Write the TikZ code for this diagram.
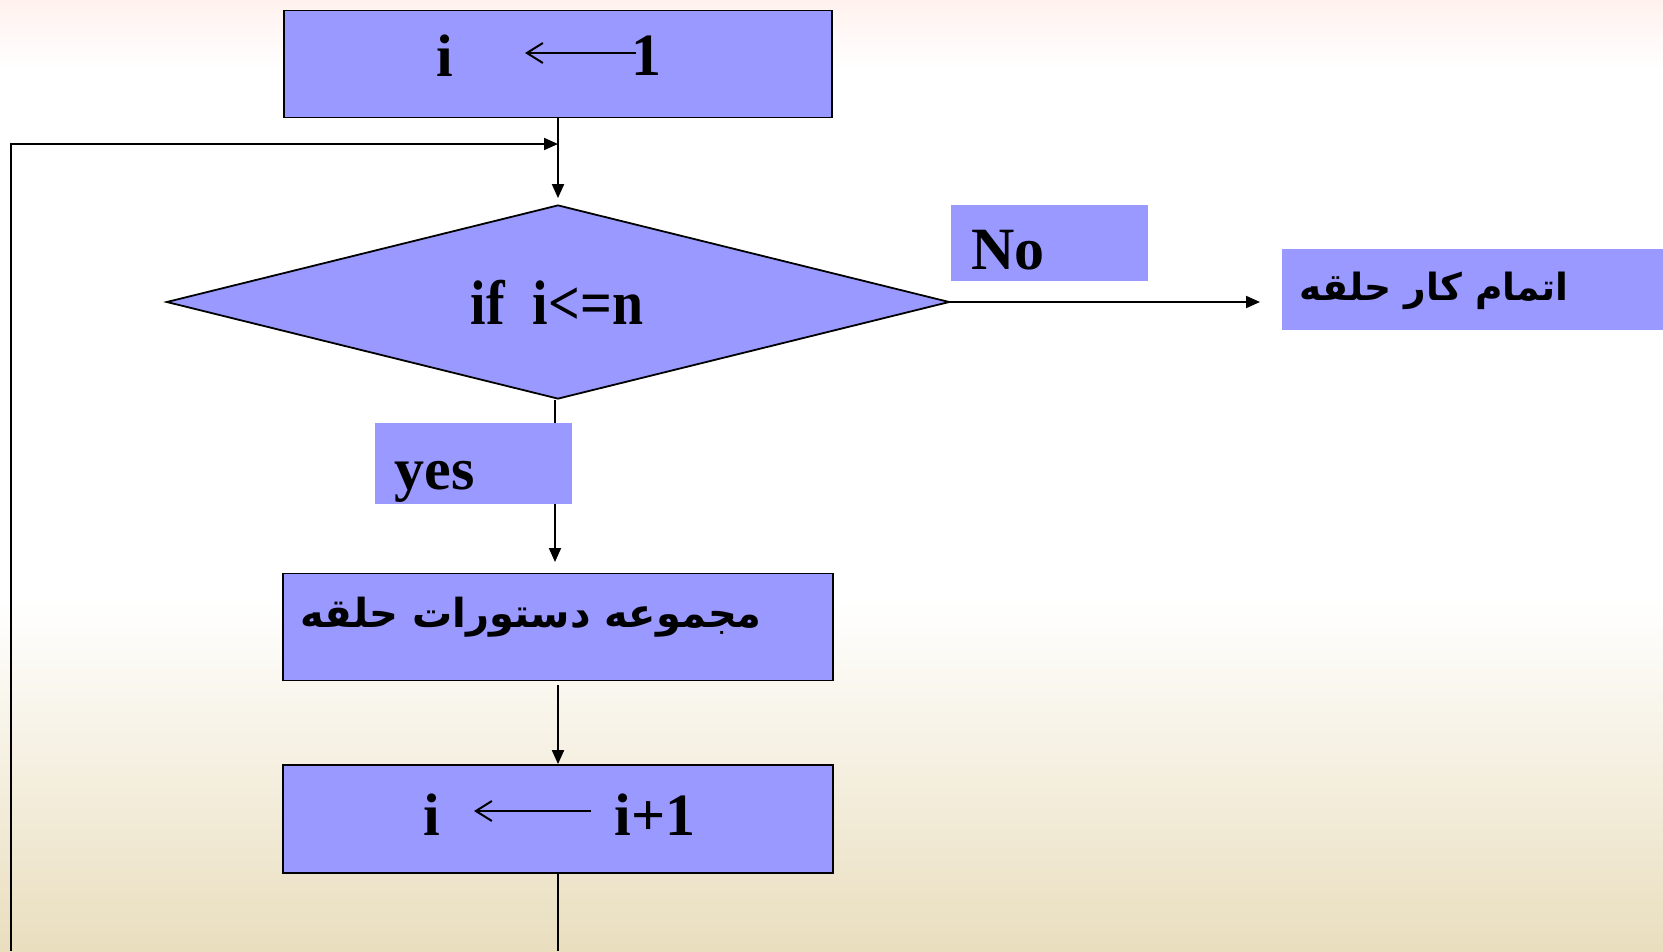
\documentclass[tikz,border=0pt]{standalone}
\usepackage{fontspec}
\usepackage{graphicx}
\setmainfont{Liberation Serif}
\newfontfamily\arabicfont[Script=Arabic]{DejaVu Sans}
\TeXXeTstate=1
\usetikzlibrary{shapes.geometric,arrows.meta}
\definecolor{boxfill}{HTML}{9999FF}
\definecolor{bgtop}{HTML}{FFF2EE}
\definecolor{bgbottom}{HTML}{E9DEBE}
\tikzset{
  procbox/.style={draw=black, line width=1.8pt, fill=boxfill, inner sep=0pt},
  labelbox/.style={fill=boxfill, inner sep=0pt},
  latin/.style={font=\fontsize{60}{66}\selectfont\bfseries, inner sep=0pt},
  persian/.style={font=\fontsize{40}{46}\selectfont\arabicfont\bfseries, inner sep=0pt},
  flow/.style={line width=1.9pt, -{Triangle[length=14pt,width=12pt]}},
  plain/.style={line width=1.9pt},
  assign/.style={line width=2pt, {Straight Barb[length=16pt,width=20pt]}-},
}
\begin{document}
\begin{tikzpicture}[x=1pt,y=-1pt]
\useasboundingbox (0,0) rectangle (1663,951);
% page background
\shade[top color=bgtop, bottom color=white] (0,0) rectangle (1663,70);
\fill[white] (0,70) rectangle (1663,600);
\shade[top color=white, bottom color=bgbottom] (0,600) rectangle (1663,951);

% flowchart blocks
\node[procbox, minimum width=548, minimum height=107] (init) at (558,64) {};
\node[procbox, diamond, minimum width=783, minimum height=194] (cond) at (558,302) {};
\node[latin] (condtxt) at (557,302) {\scalebox{0.93}[1.05]{if\ \ i<=n}};
\node[procbox, minimum width=550, minimum height=107] (body) at (558,627) {};
\node[procbox, minimum width=550, minimum height=108] (inc) at (558,819) {};
\node[labelbox, minimum width=381, minimum height=81] (done) at (1472.5,289.5) {};

% texts of the assignment boxes
\node[latin] (i1) at (445,56) {i};
\node[latin] (one) at (646,56) {1};
\node[latin] (i2) at (432,815) {i};
\node[latin] (iplus) at (655,815) {i+1};
\coordinate (a1s) at (525,53);
\coordinate (a1e) at (636,53);
\coordinate (a2s) at (474,811);
\coordinate (a2e) at (591,811);
\draw[assign] (a1s) -- (a1e);
\draw[assign] (a2s) -- (a2e);

% Persian texts
\node[persian] (bodytxt) at (531,617) {\beginR مجموعه دستورات حلقه\endR};
\node[persian, font=\fontsize{37.5}{44}\selectfont\arabicfont\bfseries] (donetxt) at (1434,291) {\beginR اتمام کار حلقه\endR};

% connectors
\coordinate (loopbot) at (558,951);
\coordinate (loopleft) at (11,951);
\coordinate (loopcorner) at (11,144);
\coordinate (loopjoin) at (558,144);
\coordinate (noend) at (1260,302);
\draw[flow, shorten >=6pt] (init.south) -- (cond.north);
\draw[flow] (loopleft) -- (loopcorner) -- (loopjoin);
\draw[flow] (cond.east) -- (noend);
\draw[flow, shorten >=5pt] (cond.south) ++(-3,0) -- (555,567);
\draw[flow, shorten <=4pt] (body.south) -- (inc.north);
\draw[plain] (inc.south) -- (loopbot);

% branch labels
\node[labelbox, minimum width=197, minimum height=81] (yes) at (473.5,463.5) {};
\node[latin] (yestxt) at (434.5,482) {yes};
\node[labelbox, minimum width=197, minimum height=76] (no) at (1049.5,243) {};
\node[latin] (notxt) at (1008,250) {No};
\end{tikzpicture}
\end{document}
